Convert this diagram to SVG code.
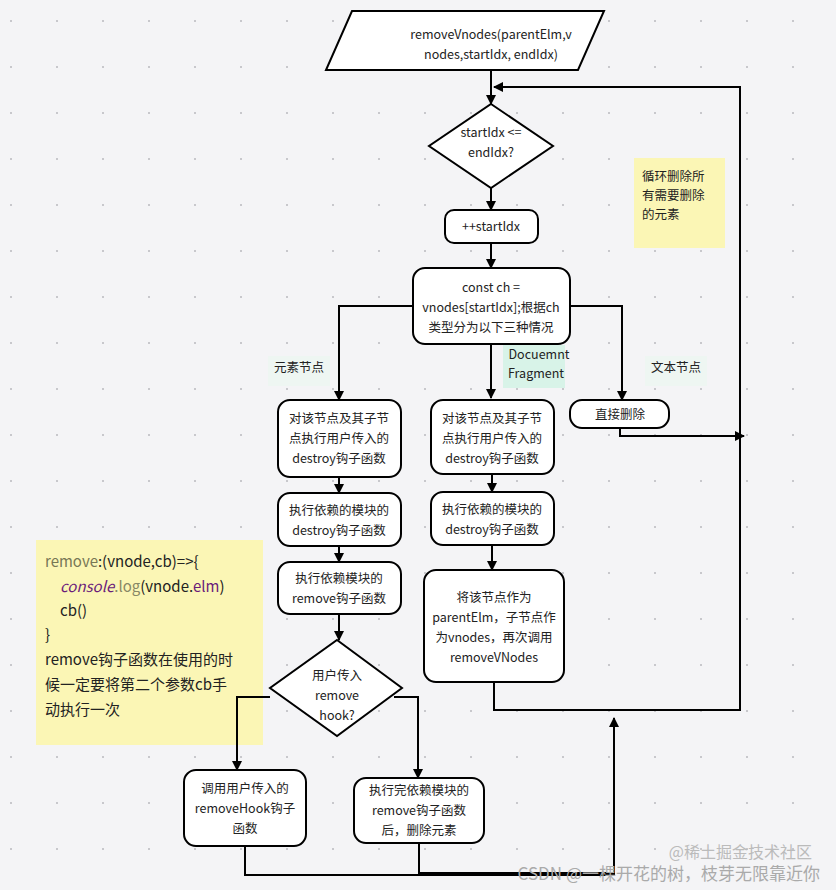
<svg xmlns="http://www.w3.org/2000/svg" width="836" height="890" viewBox="0 0 836 890">
<defs>
<pattern id="dots" width="46" height="46" patternUnits="userSpaceOnUse"><rect x="10" y="20" width="2" height="2" fill="#c8c8cc"/></pattern>
<marker id="ah" viewBox="0 0 10 10" refX="9" refY="5" markerWidth="5" markerHeight="5" orient="auto"><path d="M0,0L10,5L0,10z" fill="#000"/></marker>
<style>
.n{fill:#fff;stroke:#000;stroke-width:2}
.t{font-family:"Noto Sans CJK SC","Noto Sans",sans-serif;font-size:12.5px;fill:#222;text-anchor:middle}
.c{fill:none;stroke:#000;stroke-width:2;marker-end:url(#ah)}
.l{fill:none;stroke:#000;stroke-width:2}
.s{font-family:"Noto Sans CJK SC","Noto Sans",sans-serif;font-size:15px;fill:#222}
</style>
</defs>
<rect width="836" height="890" fill="#f4f4f6"/>
<rect width="836" height="890" fill="url(#dots)"/>
<g id="note1"><rect x="634" y="158" width="91" height="90" fill="#fbf6b5"/><text class="t" x="642" y="181" style="text-anchor:start">循环删除所</text><text class="t" x="642" y="200" style="text-anchor:start">有需要删除</text><text class="t" x="642" y="219" style="text-anchor:start">的元素</text></g>
<g id="note2"><rect x="36" y="540" width="227" height="205" fill="#fbf6b5"/>
<text class="s" x="45" y="567"><tspan fill="#777755">remove</tspan>:(vnode,cb)=&gt;{</text>
<text class="s" x="60" y="592"><tspan fill="#6a1b7a" font-style="italic">console</tspan><tspan fill="#888866">.log</tspan>(vnode.<tspan fill="#6a1b7a">elm</tspan>)</text>
<text class="s" x="60" y="616">cb()</text>
<text class="s" x="45" y="640">}</text>
<text class="s" x="45" y="665">remove钩子函数在使用的时</text>
<text class="s" x="45" y="690">候一定要将第二个参数cb手</text>
<text class="s" x="45" y="715">动执行一次</text></g>
<g id="connectors">
<path class="c" d="M491,70V104"/>
<path class="c" d="M491,188V210"/>
<path class="c" d="M491,243V268"/>
<path class="c" d="M413,306H339V400"/>
<path class="c" d="M491,344V398"/>
<path class="c" d="M570,306H622V400"/>
<path class="c" d="M339,477V493"/>
<path class="c" d="M339,546V562"/>
<path class="c" d="M339,614V640"/>
<path class="c" d="M492,474V492"/>
<path class="c" d="M492,545V570"/>
<path class="c" d="M620,428V436H744"/>
<path class="c" d="M494,682V710H740V87H494"/>
<path class="c" d="M270,697H237V770"/>
<path class="c" d="M394,697H418V778"/>
<path class="l" d="M245,846V875H614"/>
<path class="l" d="M419,843V873H614"/>
<path class="c" d="M614,875V718"/>
</g>
<g id="start"><polygon class="n" points="352,11 604,11 578,70 326,70"/><text class="t" x="491" y="39">removeVnodes(parentElm,v</text><text class="t" x="491" y="59">nodes,startIdx, endIdx)</text></g>
<g id="cond1"><polygon class="n" points="491,104 553,146 491,188 429,146"/><text class="t" x="491" y="137">startIdx &lt;=</text><text class="t" x="491" y="157">endIdx?</text></g>
<g id="inc"><rect class="n" x="445" y="210" width="93" height="33" rx="9"/><text class="t" x="491" y="231">++startIdx</text></g>
<g id="ch"><rect class="n" x="413" y="268" width="157" height="76" rx="12"/><text class="t" x="491" y="292">const ch =</text><text class="t" x="491" y="312">vnodes[startIdx];根据ch</text><text class="t" x="491" y="332">类型分为以下三种情况</text></g>
<g id="lbl1"><rect x="268" y="356" width="62" height="30" fill="#eef6f2"/><text class="t" x="299" y="372">元素节点</text></g>
<g id="lbl2"><rect x="503" y="345" width="62" height="43" fill="#d8f3e8"/><text class="t" x="539" y="359">Docuemnt</text><text class="t" x="536" y="378">Fragment</text></g>
<g id="lbl3"><rect x="645" y="356" width="62" height="30" fill="#eef6f2"/><text class="t" x="676" y="372">文本节点</text></g>
<g id="a1"><rect class="n" x="278" y="400" width="123" height="77" rx="12"/><text class="t" x="339" y="423">对该节点及其子节</text><text class="t" x="339" y="443">点执行用户传入的</text><text class="t" x="339" y="463">destroy钩子函数</text></g>
<g id="a2"><rect class="n" x="278" y="493" width="123" height="53" rx="12"/><text class="t" x="339" y="515">执行依赖的模块的</text><text class="t" x="339" y="535">destroy钩子函数</text></g>
<g id="a3"><rect class="n" x="278" y="562" width="123" height="52" rx="12"/><text class="t" x="339" y="583">执行依赖模块的</text><text class="t" x="339" y="603">remove钩子函数</text></g>
<g id="cond2"><polygon class="n" points="337,640 402,688 337,736 270,688"/><text class="t" x="337" y="680">用户传入</text><text class="t" x="337" y="700">remove</text><text class="t" x="337" y="720">hook?</text></g>
<g id="a4"><rect class="n" x="184" y="770" width="122" height="76" rx="12"/><text class="t" x="245" y="793">调用用户传入的</text><text class="t" x="245" y="813">removeHook钩子</text><text class="t" x="245" y="833">函数</text></g>
<g id="a5"><rect class="n" x="354" y="778" width="130" height="65" rx="12"/><text class="t" x="419" y="795">执行完依赖模块的</text><text class="t" x="419" y="815">remove钩子函数</text><text class="t" x="419" y="835">后，删除元素</text></g>
<g id="b1"><rect class="n" x="431" y="400" width="123" height="74" rx="12"/><text class="t" x="492" y="423">对该节点及其子节</text><text class="t" x="492" y="443">点执行用户传入的</text><text class="t" x="492" y="463">destroy钩子函数</text></g>
<g id="b2"><rect class="n" x="431" y="492" width="123" height="53" rx="12"/><text class="t" x="492" y="514">执行依赖的模块的</text><text class="t" x="492" y="534">destroy钩子函数</text></g>
<g id="b3"><rect class="n" x="424" y="570" width="140" height="112" rx="12"/><text class="t" x="494" y="602">将该节点作为</text><text class="t" x="494" y="622">parentElm，子节点作</text><text class="t" x="494" y="642">为vnodes，再次调用</text><text class="t" x="494" y="662">removeVNodes</text></g>
<g id="c1"><rect class="n" x="570" y="400" width="99" height="28" rx="12"/><text class="t" x="620" y="419">直接删除</text></g>
<text x="812" y="858" font-family="Noto Sans CJK SC,sans-serif" font-size="16" fill="#bbb" text-anchor="end">@稀土掘金技术社区</text>
<text x="820" y="880" font-family="Noto Sans CJK SC,sans-serif" font-size="17" fill="#aaa" text-anchor="end">CSDN @一棵开花的树，枝芽无限靠近你</text>
</svg>
